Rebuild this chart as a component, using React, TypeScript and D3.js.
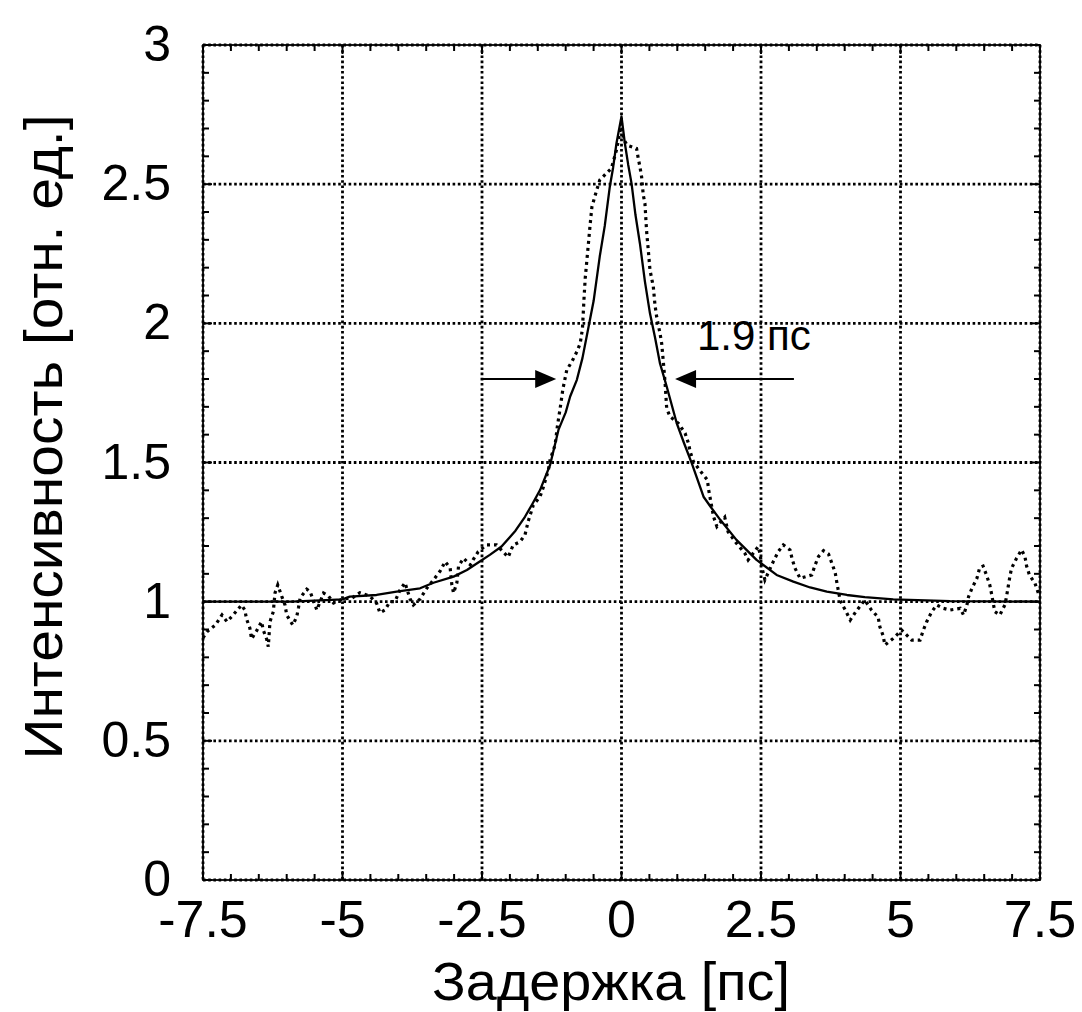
import React from "react";
import * as d3 from "d3";

const xTicks = [-7.5, -5, -2.5, 0, 2.5, 5, 7.5];
const yTicks = [0, 0.5, 1, 1.5, 2, 2.5, 3];
const xTickLabels = ["-7.5", "-5", "-2.5", "0", "2.5", "5", "7.5"];
const yTickLabels = ["0", "0.5", "1", "1.5", "2", "2.5", "3"];

// fitted (solid) curve
const fitX = [-7.5, -5.91, -5.0, -4.87, -4.39, -4.03, -3.61, -3.37, -3.01, -2.77, -2.54, -2.36, -2.15, -1.9, -1.73, -1.6, -1.46, -1.28, -1.13, -1.0, -0.92, -0.8, -0.7, -0.59, -0.5, -0.39, -0.3, -0.21, -0.15, -0.09, 0, 0.06, 0.12, 0.18, 0.25, 0.33, 0.42, 0.51, 0.6, 0.69, 0.81, 0.99, 1.12, 1.26, 1.47, 1.6, 1.77, 2.06, 2.42, 2.78, 3.08, 3.38, 3.68, 4.04, 4.36, 4.87, 5.89, 7.5];
const fitY = [1.0, 1.0, 1.008, 1.018, 1.024, 1.036, 1.048, 1.068, 1.09, 1.114, 1.144, 1.168, 1.198, 1.255, 1.305, 1.35, 1.401, 1.491, 1.617, 1.68, 1.737, 1.797, 1.875, 1.988, 2.08, 2.24, 2.35, 2.49, 2.56, 2.647, 2.743, 2.647, 2.57, 2.503, 2.39, 2.287, 2.15, 2.036, 1.95, 1.856, 1.773, 1.641, 1.57, 1.497, 1.377, 1.34, 1.294, 1.222, 1.15, 1.096, 1.072, 1.051, 1.036, 1.024, 1.016, 1.008, 1.002, 1.0];

// measured (dotted) curve
const measX = [-7.5, -7.43, -7.28, -7.16, -7.07, -6.96, -6.81, -6.75, -6.72, -6.66, -6.63, -6.54, -6.45, -6.42, -6.36, -6.33, -6.3, -6.24, -6.21, -6.16, -6.09, -6.03, -6.0, -5.89, -5.82, -5.79, -5.76, -5.64, -5.58, -5.46, -5.34, -5.25, -5.16, -4.99, -4.83, -4.69, -4.51, -4.39, -4.33, -4.24, -4.15, -4.06, -3.97, -3.88, -3.79, -3.73, -3.61, -3.49, -3.37, -3.25, -3.16, -3.07, -3.04, -3.01, -2.95, -2.92, -2.83, -2.71, -2.66, -2.57, -2.42, -2.24, -2.03, -1.94, -1.82, -1.73, -1.67, -1.58, -1.46, -1.4, -1.31, -1.28, -1.19, -1.15, -1.1, -1.05, -0.98, -0.89, -0.8, -0.74, -0.7, -0.67, -0.65, -0.62, -0.59, -0.56, -0.53, -0.47, -0.39, -0.27, -0.18, -0.09, -0.03, 0.0, 0.03, 0.1, 0.27, 0.3, 0.33, 0.36, 0.39, 0.42, 0.45, 0.48, 0.51, 0.57, 0.6, 0.63, 0.69, 0.72, 0.75, 0.78, 0.81, 0.87, 1.02, 1.14, 1.2, 1.23, 1.29, 1.41, 1.54, 1.56, 1.59, 1.65, 1.71, 1.85, 1.91, 2.06, 2.21, 2.27, 2.45, 2.48, 2.52, 2.57, 2.72, 2.81, 2.9, 3.02, 3.06, 3.11, 3.2, 3.41, 3.47, 3.53, 3.62, 3.71, 3.77, 3.83, 3.86, 3.92, 4.01, 4.1, 4.2, 4.36, 4.48, 4.6, 4.63, 4.69, 4.72, 4.87, 5.02, 5.2, 5.35, 5.41, 5.47, 5.56, 5.65, 5.77, 5.89, 6.07, 6.13, 6.19, 6.22, 6.28, 6.37, 6.42, 6.48, 6.54, 6.6, 6.63, 6.69, 6.78, 6.87, 6.9, 6.93, 6.96, 6.99, 7.08, 7.17, 7.23, 7.26, 7.31, 7.41, 7.47, 7.5];
const measY = [0.87, 0.892, 0.916, 0.952, 0.928, 0.952, 0.988, 0.97, 0.938, 0.905, 0.866, 0.895, 0.928, 0.898, 0.866, 0.838, 0.928, 0.964, 1.031, 1.06, 1.02, 0.988, 0.952, 0.916, 0.946, 0.977, 1.013, 1.045, 1.036, 0.97, 1.031, 1.02, 0.995, 1.01, 1.013, 1.032, 1.02, 0.995, 0.96, 0.97, 1.0, 1.0, 1.042, 1.068, 1.01, 0.988, 1.01, 1.048, 1.078, 1.11, 1.144, 1.12, 1.06, 1.031, 1.068, 1.128, 1.156, 1.132, 1.15, 1.179, 1.204, 1.204, 1.16, 1.204, 1.215, 1.24, 1.29, 1.347, 1.377, 1.412, 1.473, 1.509, 1.563, 1.629, 1.694, 1.764, 1.833, 1.862, 1.898, 1.928, 1.98, 2.096, 2.162, 2.228, 2.293, 2.359, 2.419, 2.461, 2.515, 2.539, 2.557, 2.623, 2.684, 2.72, 2.665, 2.64, 2.628, 2.593, 2.563, 2.527, 2.461, 2.431, 2.33, 2.264, 2.192, 2.132, 2.066, 2.024, 1.964, 1.928, 1.861, 1.79, 1.694, 1.665, 1.641, 1.605, 1.569, 1.539, 1.503, 1.47, 1.437, 1.404, 1.371, 1.305, 1.27, 1.303, 1.251, 1.21, 1.174, 1.15, 1.198, 1.174, 1.12, 1.078, 1.144, 1.18, 1.204, 1.186, 1.152, 1.12, 1.084, 1.096, 1.132, 1.162, 1.183, 1.171, 1.138, 1.104, 1.068, 1.003, 0.97, 0.934, 0.964, 1.006, 0.97, 0.944, 0.91, 0.877, 0.844, 0.868, 0.898, 0.862, 0.862, 0.898, 0.928, 0.964, 0.988, 0.976, 0.97, 0.976, 0.952, 0.988, 1.018, 1.048, 1.084, 1.123, 1.128, 1.096, 1.06, 1.03, 0.964, 0.952, 0.988, 1.018, 1.054, 1.09, 1.12, 1.156, 1.186, 1.162, 1.128, 1.096, 1.066, 1.031, 1.02];

const fwhmLabel = "1.9 пс";
const fwhmLevel = 1.8;
const arrowLeft = [-2.52, -1.17];
const arrowRight = [3.09, 0.96];
const xTitle = "Задержка [пс]";
const yTitle = "Интенсивность [отн. ед.]";

const W = 1082, H = 1012;
const L = 203, R = 1040, T = 45, B = 880;

export default function App() {
  const x = d3.scaleLinear().domain([-7.5, 7.5]).range([L, R]);
  const y = d3.scaleLinear().domain([0, 3]).range([B, T]);
  const line = d3.line<[number, number]>().x((d) => x(d[0])).y((d) => y(d[1]));
  const fit: [number, number][] = fitX.map((v, i) => [v, fitY[i]]);
  const meas: [number, number][] = measX.map((v, i) => [v, measY[i]]);

  const xMinor = d3.range(-7.5, 7.5001, 0.5);
  const yMinor = d3.range(0, 3.0001, 0.1);
  const font = "'Liberation Sans', Arial, sans-serif";

  const ay = y(fwhmLevel);
  const head = (tipX: number, dir: number) => {
    const tx = x(tipX);
    return `M${tx},${ay} L${tx - dir * 21},${ay - 9} L${tx - dir * 21},${ay + 9} Z`;
  };

  return (
    <svg width={W} height={H} style={{ position: "absolute", left: 0, top: 0, background: "#fff" }}>
      <rect x={0} y={0} width={W} height={H} fill="#fff" />
      {/* grid */}
      {xTicks.map((t) => (
        <line key={"gx" + t} x1={x(t)} x2={x(t)} y1={T} y2={B} stroke="#000" strokeWidth={2.8} strokeDasharray="2.6 2.6" />
      ))}
      {yTicks.map((t) => (
        <line key={"gy" + t} x1={L} x2={R} y1={y(t)} y2={y(t)} stroke="#000" strokeWidth={2.8} strokeDasharray="2.6 2.6" />
      ))}
      {/* frame */}
      <rect x={L} y={T} width={R - L} height={B - T} fill="none" stroke="#000" strokeWidth={1.8} />
      {/* ticks */}
      {xMinor.map((t, i) => {
        const len = i % 5 === 0 ? 9 : 6;
        return (
          <g key={"tx" + i}>
            <line x1={x(t)} x2={x(t)} y1={B} y2={B - len} stroke="#000" strokeWidth={2} />
            <line x1={x(t)} x2={x(t)} y1={T} y2={T + len} stroke="#000" strokeWidth={2} />
          </g>
        );
      })}
      {yMinor.map((t, i) => {
        const len = i % 5 === 0 ? 9 : 6;
        return (
          <g key={"ty" + i}>
            <line x1={L} x2={L + len} y1={y(t)} y2={y(t)} stroke="#000" strokeWidth={2} />
            <line x1={R} x2={R - len} y1={y(t)} y2={y(t)} stroke="#000" strokeWidth={2} />
          </g>
        );
      })}
      {/* curves */}
      <path d={line(meas) || ""} fill="none" stroke="#000" strokeWidth={3.2} strokeDasharray="3 4" />
      <path d={line(fit) || ""} fill="none" stroke="#000" strokeWidth={2.3} strokeLinejoin="round" />
      {/* annotation */}
      <line x1={x(arrowLeft[0])} x2={x(arrowLeft[1]) - 20} y1={ay} y2={ay} stroke="#000" strokeWidth={1.8} />
      <path d={head(arrowLeft[1], 1)} fill="#000" />
      <line x1={x(arrowRight[0])} x2={x(arrowRight[1]) + 20} y1={ay} y2={ay} stroke="#000" strokeWidth={1.8} />
      <path d={head(arrowRight[1], -1)} fill="#000" />
      <text x={697} y={350} fontFamily={font} fontSize={42} fill="#000">{fwhmLabel}</text>
      {/* tick labels */}
      {xTicks.map((t, i) => (
        <text key={"lx" + t} x={x(t)} y={937} textAnchor="middle" fontFamily={font} fontSize={52} fill="#000">{xTickLabels[i]}</text>
      ))}
      {yTicks.map((t, i) => (
        <text key={"ly" + t} x={171} y={y(t) + 16} textAnchor="end" fontFamily={font} fontSize={50} fill="#000">{yTickLabels[i]}</text>
      ))}
      <text x={611} y={1000} textAnchor="middle" fontFamily={font} fontSize={54} textLength={358} lengthAdjust="spacingAndGlyphs" fill="#000">{xTitle}</text>
      <text transform={`translate(62,437) rotate(-90)`} textAnchor="middle" fontFamily={font} fontSize={54} textLength={645} lengthAdjust="spacingAndGlyphs" fill="#000">{yTitle}</text>
    </svg>
  );
}
